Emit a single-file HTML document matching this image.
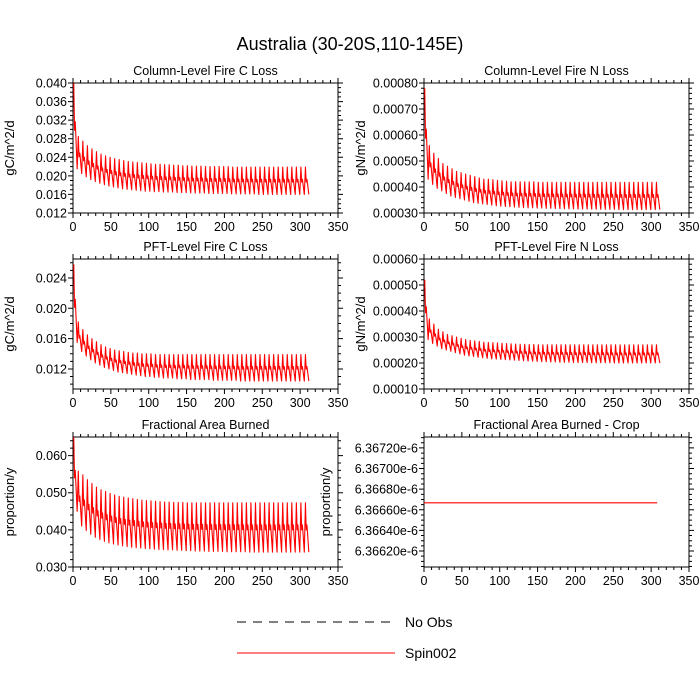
<!DOCTYPE html>
<html><head><meta charset="utf-8"><style>
html,body{margin:0;padding:0;background:#fff;}
svg{display:block;font-family:"Liberation Sans",sans-serif;}
</style></head><body>
<svg id="chart" width="700" height="700" viewBox="0 0 700 700">
<text x="350" y="50" text-anchor="middle" font-size="18">Australia (30-20S,110-145E)</text>
<g>
<line x1="237" y1="622" x2="395" y2="622" stroke="#000" stroke-width="1" stroke-dasharray="9,7"/>
<text x="405" y="627" font-size="14">No Obs</text>
<line x1="237" y1="653" x2="395" y2="653" stroke="#f00" stroke-width="1"/>
<text x="405" y="658" font-size="14">Spin002</text>
</g>
</svg>
<script>
const cycleYears = [0,6,12,18,24,30,36,42,48,54,60,66,72,78,84,90,96,102,108,114,120,126,132,138,144,150,156,162,168,174,180,186,192,198,204,210,216,222,228,234,240,246,252,258,264,270,276,282,288,294,300,306];
const xTicks = [0,50,100,150,200,250,300,350];

const cPeaks = [0.0400,0.0285,0.0275,0.0265,0.0258,0.0252,0.0247,0.0243,0.0240,0.0237,0.0235,0.0233,0.0231,0.0230,0.0229,0.0228,0.0227,0.0226,0.0225,0.0225,0.0224,0.0224,0.0223,0.0223,0.0222,0.0222,0.0221,0.0221,0.0221,0.0220,0.0220,0.0220,0.0220,0.0220,0.0220,0.0219,0.0219,0.0219,0.0219,0.0219,0.0219,0.0219,0.0219,0.0219,0.0219,0.0219,0.0219,0.0219,0.0219,0.0219,0.0219,0.0219];
const cTroughs = [0.0215,0.0205,0.0198,0.0192,0.0188,0.0184,0.0181,0.0178,0.0176,0.0174,0.0172,0.0171,0.0170,0.0169,0.0168,0.0167,0.0167,0.0166,0.0166,0.0165,0.0165,0.0165,0.0164,0.0164,0.0164,0.0163,0.0163,0.0163,0.0163,0.0162,0.0162,0.0162,0.0162,0.0162,0.0161,0.0161,0.0161,0.0161,0.0161,0.0161,0.0160,0.0160,0.0160,0.0160,0.0160,0.0160,0.0160,0.0160,0.0160,0.0160,0.0160,0.0160];
const nPeaks = [0.00078,0.00056,0.00053,0.00051,0.00049,0.00048,0.00047,0.00046,0.000455,0.00045,0.000445,0.00044,0.000435,0.00043,0.00043,0.000428,0.000426,0.000424,0.000422,0.00042,0.00042,0.00042,0.00042,0.00042,0.00042,0.000418,0.000418,0.000418,0.000418,0.000418,0.000418,0.000418,0.000418,0.000418,0.000418,0.000418,0.000418,0.000418,0.000418,0.000418,0.000418,0.000418,0.000418,0.000418,0.000418,0.000418,0.000418,0.000418,0.000418,0.000418,0.000418,0.000418];
const nTroughs = [0.00043,0.00041,0.000395,0.000385,0.000375,0.000365,0.00036,0.000355,0.00035,0.000345,0.00034,0.000337,0.000335,0.000333,0.00033,0.000328,0.000326,0.000325,0.000324,0.000323,0.000322,0.000321,0.00032,0.00032,0.000319,0.000319,0.000318,0.000318,0.000317,0.000317,0.000316,0.000316,0.000316,0.000315,0.000315,0.000315,0.000315,0.000314,0.000314,0.000314,0.000314,0.000314,0.000313,0.000313,0.000313,0.000313,0.000313,0.000313,0.000313,0.000313,0.000313,0.000313];
const pcPeaks = [0.0258,0.0182,0.0172,0.0165,0.0160,0.0156,0.0152,0.0149,0.0147,0.0145,0.0144,0.0143,0.0142,0.0141,0.0141,0.0140,0.0140,0.0140,0.0139,0.0139,0.0139,0.0139,0.0139,0.0139,0.0139,0.0139,0.0139,0.0139,0.0139,0.0139,0.0139,0.0139,0.0139,0.0139,0.0139,0.0139,0.0139,0.0139,0.0139,0.0139,0.0139,0.0139,0.0139,0.0139,0.0139,0.0139,0.0139,0.0139,0.0139,0.0139,0.0139,0.0139];
const pcTroughs = [0.0155,0.0143,0.0137,0.0132,0.0128,0.0125,0.0122,0.0120,0.0118,0.0116,0.0115,0.0114,0.0113,0.0112,0.0111,0.0110,0.0110,0.0109,0.0109,0.0108,0.0108,0.0108,0.0107,0.0107,0.0107,0.0106,0.0106,0.0106,0.0106,0.0106,0.0105,0.0105,0.0105,0.0105,0.0105,0.0105,0.0104,0.0104,0.0104,0.0104,0.0104,0.0104,0.0104,0.0104,0.0104,0.0104,0.0104,0.0104,0.0104,0.0104,0.0104,0.0104];
const pnPeaks = [0.00052,0.00037,0.00035,0.00033,0.00032,0.00031,0.000305,0.0003,0.000295,0.00029,0.000287,0.000285,0.000283,0.00028,0.000279,0.000278,0.000277,0.000276,0.000275,0.000274,0.000273,0.000272,0.000272,0.000271,0.000271,0.00027,0.00027,0.00027,0.00027,0.00027,0.00027,0.00027,0.00027,0.00027,0.00027,0.00027,0.00027,0.00027,0.00027,0.00027,0.00027,0.00027,0.00027,0.00027,0.00027,0.00027,0.00027,0.00027,0.00027,0.00027,0.00027,0.00027];
const pnTroughs = [0.00029,0.000275,0.000265,0.000255,0.00025,0.000245,0.00024,0.000235,0.00023,0.000227,0.000225,0.000222,0.00022,0.000218,0.000216,0.000215,0.000214,0.000213,0.000212,0.000211,0.00021,0.000209,0.000208,0.000207,0.000206,0.000205,0.000205,0.000204,0.000204,0.000203,0.000203,0.000203,0.000202,0.000202,0.000202,0.000202,0.000201,0.000201,0.000201,0.000201,0.000201,0.0002,0.0002,0.0002,0.0002,0.0002,0.0002,0.0002,0.0002,0.0002,0.0002,0.0002];
const fPeaks = [0.0650,0.0558,0.0548,0.0535,0.0525,0.0515,0.0508,0.0503,0.0498,0.0494,0.0490,0.0488,0.0486,0.0484,0.0482,0.0480,0.0479,0.0478,0.0477,0.0476,0.0475,0.0475,0.0474,0.0474,0.0474,0.0473,0.0473,0.0473,0.0473,0.0473,0.0473,0.0473,0.0473,0.0473,0.0473,0.0473,0.0473,0.0473,0.0473,0.0473,0.0473,0.0473,0.0473,0.0473,0.0473,0.0473,0.0473,0.0473,0.0473,0.0473,0.0473,0.0473];
const fTroughs = [0.0450,0.0410,0.0398,0.0388,0.0380,0.0374,0.0369,0.0365,0.0362,0.0359,0.0357,0.0355,0.0353,0.0352,0.0351,0.0350,0.0349,0.0348,0.0347,0.0347,0.0346,0.0346,0.0345,0.0345,0.0344,0.0344,0.0343,0.0343,0.0343,0.0342,0.0342,0.0342,0.0342,0.0341,0.0341,0.0341,0.0341,0.0341,0.0340,0.0340,0.0340,0.0340,0.0340,0.0340,0.0340,0.0340,0.0340,0.0340,0.0340,0.0340,0.0340,0.0340];
const cropYears = [0,308];
const cropValues = [6.366668e-6,6.366668e-6];

const cTicks = [0.012,0.016,0.020,0.024,0.028,0.032,0.036,0.040];
const cTickLabels = ["0.012","0.016","0.020","0.024","0.028","0.032","0.036","0.040"];
const nTicks = [0.0003,0.0004,0.0005,0.0006,0.0007,0.0008];
const nTickLabels = ["0.00030","0.00040","0.00050","0.00060","0.00070","0.00080"];
const pcTicks = [0.012,0.016,0.020,0.024];
const pcTickLabels = ["0.012","0.016","0.020","0.024"];
const pnTicks = [0.0001,0.0002,0.0003,0.0004,0.0005,0.0006];
const pnTickLabels = ["0.00010","0.00020","0.00030","0.00040","0.00050","0.00060"];
const fTicks = [0.030,0.040,0.050,0.060];
const fTickLabels = ["0.030","0.040","0.050","0.060"];
const crTicks = [6.3662e-6,6.3664e-6,6.3666e-6,6.3668e-6,6.3670e-6,6.3672e-6];
const crTickLabels = ["6.36620e-6","6.36640e-6","6.36660e-6","6.36680e-6","6.36700e-6","6.36720e-6"];

const NS="http://www.w3.org/2000/svg";
const svg=document.getElementById('chart');
function mk(tag,attrs,parent){const e=document.createElementNS(NS,tag);for(const k in attrs)e.setAttribute(k,attrs[k]);parent.appendChild(e);return e;}

function panel(o){
  const L=o.x, R=o.x+265, T=o.y, B=o.y+130;
  const g=mk('g',{},svg);
  
  
  const xs=v=>L+(v/350)*(R-L);
  const ys=v=>B-(v-o.ymin)/(o.ymax-o.ymin)*(B-T);
  const t=mk('text',{x:(L+R)/2,y:T-8,'text-anchor':'middle','font-size':12.5},g);
  t.textContent=o.title;
  
  
  const yt=mk('text',{x:0,y:0,'text-anchor':'middle','font-size':13,transform:`translate(${o.ytx},${(T+B)/2}) rotate(-90)`},g);
  yt.textContent=o.ylabel;
  
  
  let p='';
  for(let v=0;v<=350;v+=10){const X=xs(v);const len=(v%50===0)?5:3;p+=`M${X},${B}v${len}M${X},${T}v${-len}`;}
  for(let v=o.ymin0;v<=o.ymax+1e-15;v+=o.minor){const Y=ys(v);if(Y<T-0.5||Y>B+0.5)continue;p+=`M${L},${Y}h-3M${R},${Y}h3`;}
  o.ticks.forEach(v=>{const Y=ys(v);p+=`M${L},${Y}h-5M${R},${Y}h5`;});
  const tk=mk('path',{d:p,stroke:'#000','stroke-width':1,fill:'none'},g);
  
  
  xTicks.forEach(v=>{const e=mk('text',{x:xs(v),y:B+18,'text-anchor':'middle','font-size':12.5},g);e.textContent=v;
    
    });
  o.ticks.forEach((v,i)=>{const e=mk('text',{x:L-6,y:ys(v)+4.5,'text-anchor':'end','font-size':12.5},g);e.textContent=o.labels[i];
    
    });
  const fr=mk('rect',{x:L,y:T,width:R-L,height:B-T,fill:'none',stroke:'#000','stroke-width':1},g);
  
  
  let d='';
  if(o.peaks){
    o.peaks.forEach((pk,i)=>{const x0=cycleYears[i]+1;const tr=o.troughs[i];const md=tr+0.45*(pk-tr);
      d+=(i===0?'M':'L')+xs(x0)+','+ys(pk)+'L'+xs(x0+1)+','+ys(md)+'L'+xs(x0+2)+','+ys(md+0.1*(pk-tr))+'L'+xs(x0+4.5)+','+ys(tr);});
  } else {
    o.xv.forEach((x,i)=>{d+=(i===0?'M':'L')+xs(x)+','+ys(o.yv[i]);});
  }
  const s=mk('path',{d:d,stroke:'#f00','stroke-width':1.1,fill:'none','stroke-linejoin':'round'},g);
  
  
}
panel({name:'panel-column-fire-c-loss',x:73,y:83,title:'Column-Level Fire C Loss',ylabel:'gC/m^2/d',ytx:14,ymin:0.012,ymax:0.040,ymin0:0.012,minor:0.001,ticks:cTicks,labels:cTickLabels,peaks:cPeaks,troughs:cTroughs});
panel({name:'panel-column-fire-n-loss',x:424,y:83,title:'Column-Level Fire N Loss',ylabel:'gN/m^2/d',ytx:365,ymin:0.0003,ymax:0.0008,ymin0:0.0003,minor:0.00002,ticks:nTicks,labels:nTickLabels,peaks:nPeaks,troughs:nTroughs});
panel({name:'panel-pft-fire-c-loss',x:73,y:259,title:'PFT-Level Fire C Loss',ylabel:'gC/m^2/d',ytx:14,ymin:0.00936,ymax:0.0265,ymin0:0.010,minor:0.001,ticks:pcTicks,labels:pcTickLabels,peaks:pcPeaks,troughs:pcTroughs});
panel({name:'panel-pft-fire-n-loss',x:424,y:259,title:'PFT-Level Fire N Loss',ylabel:'gN/m^2/d',ytx:365,ymin:0.0001,ymax:0.0006,ymin0:0.0001,minor:0.00002,ticks:pnTicks,labels:pnTickLabels,peaks:pnPeaks,troughs:pnTroughs});
panel({name:'panel-fractional-area-burned',x:73,y:437,title:'Fractional Area Burned',ylabel:'proportion/y',ytx:14,ymin:0.030,ymax:0.065,ymin0:0.030,minor:0.002,ticks:fTicks,labels:fTickLabels,peaks:fPeaks,troughs:fTroughs});
panel({name:'panel-fractional-area-burned-crop',x:424,y:437,title:'Fractional Area Burned - Crop',ylabel:'proportion/y',ytx:330,ymin:6.366045e-6,ymax:6.367306e-6,ymin0:6.36605e-6,minor:0.00005e-6,ticks:crTicks,labels:crTickLabels,xv:cropYears,yv:cropValues});
</script>
</body></html>
